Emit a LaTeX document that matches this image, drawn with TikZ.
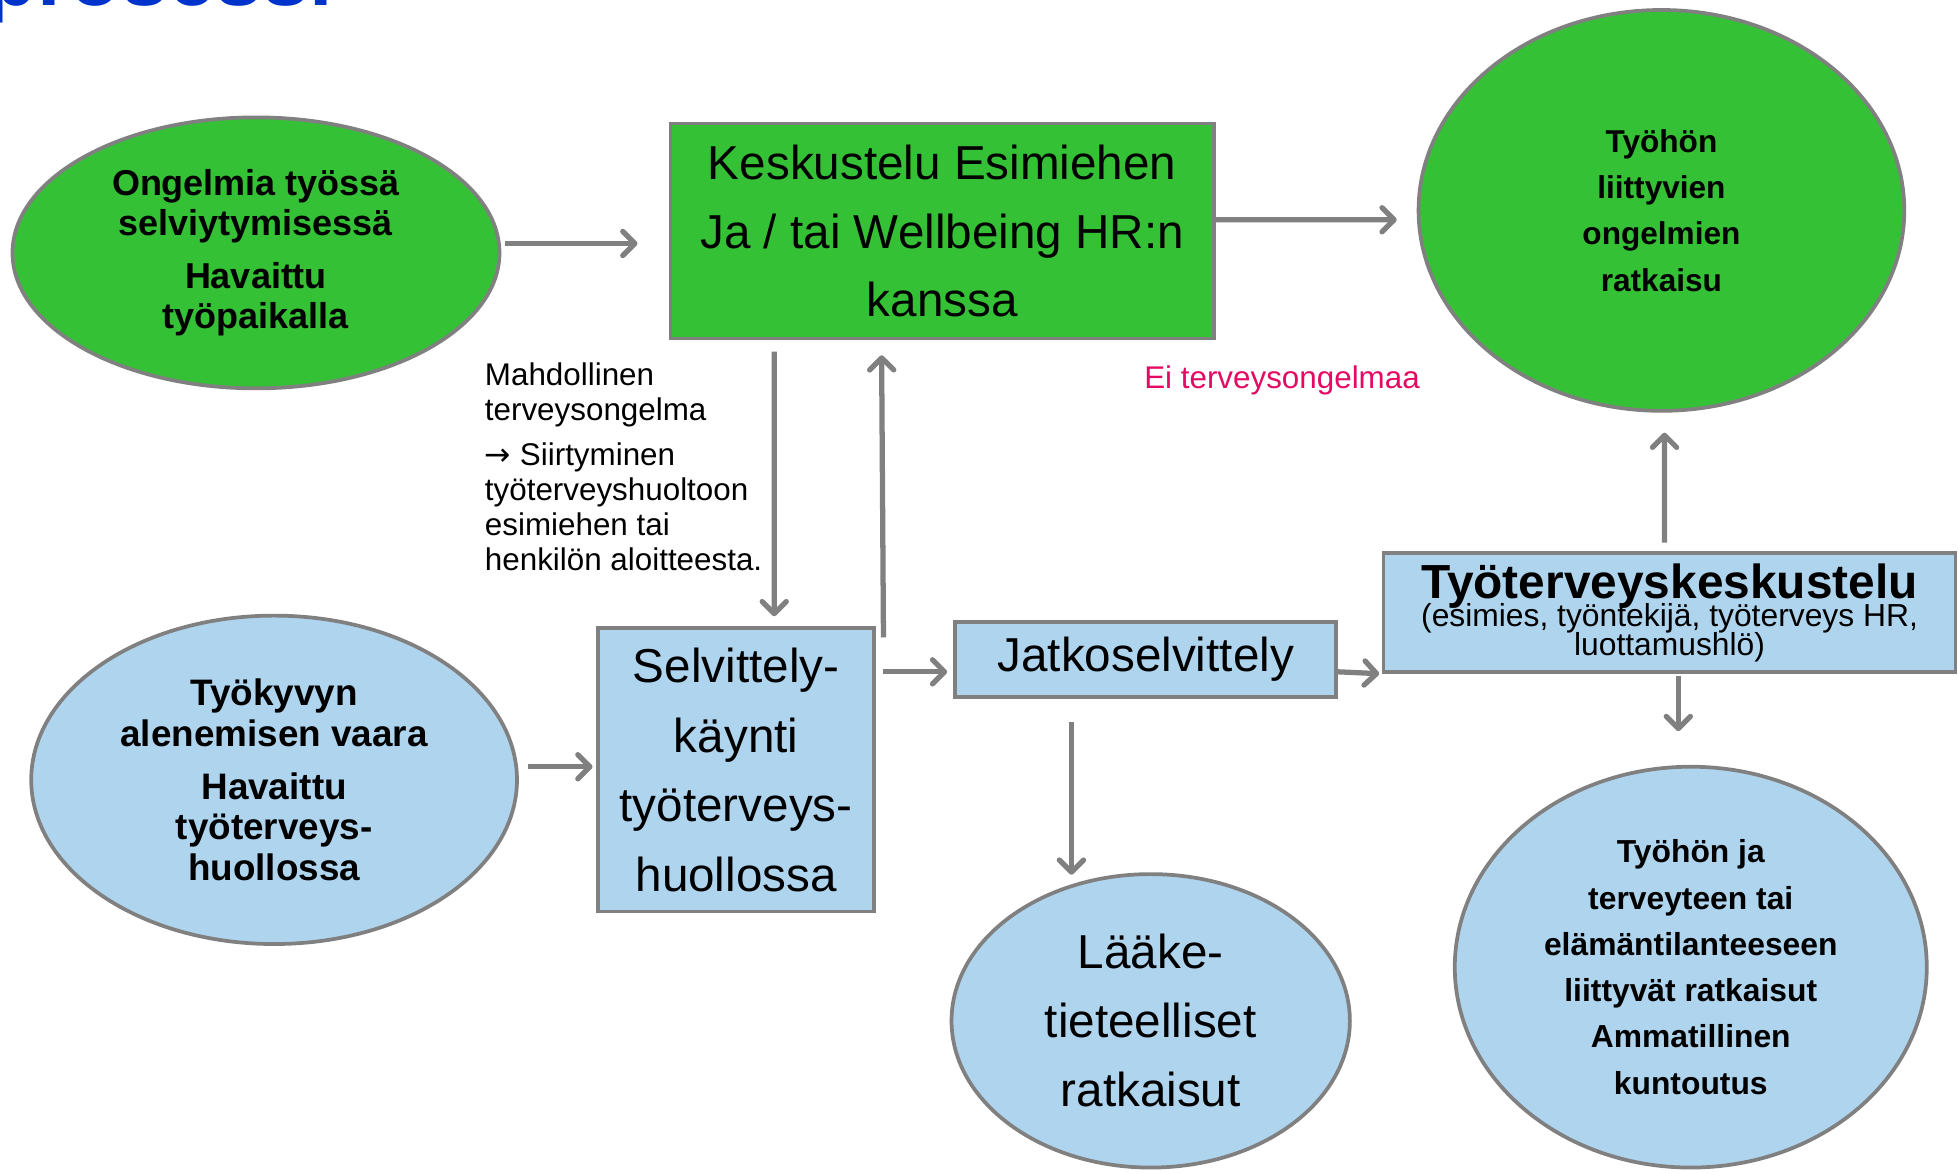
\documentclass[tikz,border=0pt]{standalone}
\usepackage{fontspec}
\setmainfont{Liberation Sans}
\newfontfamily\djv{DejaVu Sans}
\usetikzlibrary{shapes.geometric,arrows.meta,calc}
\definecolor{bordergray}{RGB}{128,128,128}
\definecolor{arrgray}{RGB}{128,128,128}
\definecolor{grn}{RGB}{53,193,53}
\definecolor{lblue}{RGB}{175,212,238}
\definecolor{eipink}{RGB}{228,10,100}
\definecolor{titleblue}{RGB}{0,51,204}
\newdimen\pxu \pxu=0.02cm
\newcommand{\fs}[2]{\fontsize{#1}{#2}\selectfont}
\newcommand{\tightls}{\lineskiplimit=-50pt\relax}
\begin{document}
\begin{tikzpicture}[x=0.02cm,y=-0.02cm,
  shp/.style={draw=bordergray,line width=1.7pt,inner sep=0pt,align=center,text=black},
  ell/.style={shp,ellipse},
  boxn/.style={shp,rectangle},
  arr/.style={draw=arrgray,line width=2.4pt,-{Straight Barb[length=5.5pt,width=11pt,round]}},
]
\useasboundingbox (0,0) rectangle (1568,939);
\begin{scope}
\clip (0,0) rectangle (1568,939);
\node[anchor=base west,inner sep=0pt,font=\fs{38.5}{40}\bfseries,text=titleblue] (title) at (-12,4.5) {prosessi};
\end{scope}

% top row
\node[ell,fill=grn,minimum width=390\pxu,minimum height=217\pxu,font=\bfseries\fs{16.4}{18.1}] (e1) at (205,202.5)
  {Ongelmia työssä\\selviytymisessä\\[6.2pt]Havaittu\\työpaikalla};
\node[boxn,fill=grn,minimum width=435\pxu,minimum height=172\pxu,font=\fs{21.7}{31.2}] (k) at (754.5,185)
  {Keskustelu Esimiehen\\Ja / tai Wellbeing HR:n\\kanssa};
\node[ell,fill=grn,minimum width=389\pxu,minimum height=321\pxu,font=\bfseries\fs{14.4}{21.1}] (c1) at (1330.5,168.5)
  {Työhön\\liittyvien\\ongelmien\\ratkaisu};

% labels
\node[anchor=north west,inner sep=0pt,align=left,font=\fs{14.3}{15.9}] (mahd) at (388,290.5)
  {Mahdollinen\\terveysongelma\\[4.5pt]{\djv →} Siirtyminen\\työterveyshuoltoon\\esimiehen tai\\henkilön aloitteesta.};
\node[anchor=base west,inner sep=0pt,text=eipink,font=\fs{14.3}{16}] (ei) at (916,311.5) {Ei terveysongelmaa};

% lower part
\node[ell,fill=lblue,minimum width=389\pxu,minimum height=263\pxu,font=\bfseries\fs{16.8}{18.4}] (e2) at (219.5,624.5)
  {Työkyvyn\\alenemisen vaara\\[6pt]Havaittu\\työterveys-\\huollossa};
\node[boxn,fill=lblue,minimum width=221\pxu,minimum height=227\pxu,font=\fs{21.7}{31.7}] (s) at (589.5,616.5)
  {Selvittely-\\käynti\\työterveys-\\huollossa};
\node[boxn,fill=lblue,minimum width=305\pxu,minimum height=60\pxu,font=\fs{21.7}{25}] (j) at (917.5,528)
  {Jatkoselvittely};
\node[boxn,fill=lblue,minimum width=458\pxu,minimum height=95\pxu,font={\fs{14.5}{13}\tightls}] (t) at (1337,490.5)
  {{\bfseries\fs{21.8}{13}Työterveyskeskustelu}\\(esimies, työntekijä, työterveys HR,\\luottamushlö)};
\node[ell,fill=lblue,minimum width=319\pxu,minimum height=235\pxu,font=\fs{21.7}{31.5}] (l) at (921.5,817.5)
  {Lääke-\\tieteelliset\\ratkaisut};
\node[ell,fill=lblue,minimum width=378\pxu,minimum height=321\pxu,font=\bfseries\fs{14.5}{21.1}] (r) at (1354,774.5)
  {Työhön ja\\terveyteen tai\\elämäntilanteeseen\\liittyvät ratkaisut\\Ammatillinen\\kuntoutus};

% connectors
\draw[arr] ($(e1.east)+(3,-7.5)$) -- ($(k.west)+(-25,10)$);
\draw[arr] ($(k.east)+(0,-9)$) -- ($(c1.west)+(-16,7.5)$);
\draw[arr] ($(k.south)+(-134.5,9)$) -- ($(s.north)+(30.5,-8)$);
\draw[arr] ($(s.north east)+(6,9)$) -- ($(k.south)+(-48.5,12)$);
\draw[arr] ($(e2.east)+(7,-10.5)$) -- ($(s.west)+(-3,-2.5)$);
\draw[arr] ($(s.east)+(6,-78.5)$) -- ($(j.west)+(-5,10)$);
\draw[arr] ($(j.east)+(0,10)$) -- ($(t.south west)+(-2,0)$);
\draw[arr] ($(t.north)+(-4,-7)$) -- ($(c1.south)+(2.5,16)$);
\draw[arr] ($(t.south)+(7,2)$) -- ($(r.north)+(-10,-27)$);
\draw[arr] ($(j.south)+(-59.5,19)$) -- ($(l.north)+(-63.5,2)$);
\end{tikzpicture}
\end{document}
